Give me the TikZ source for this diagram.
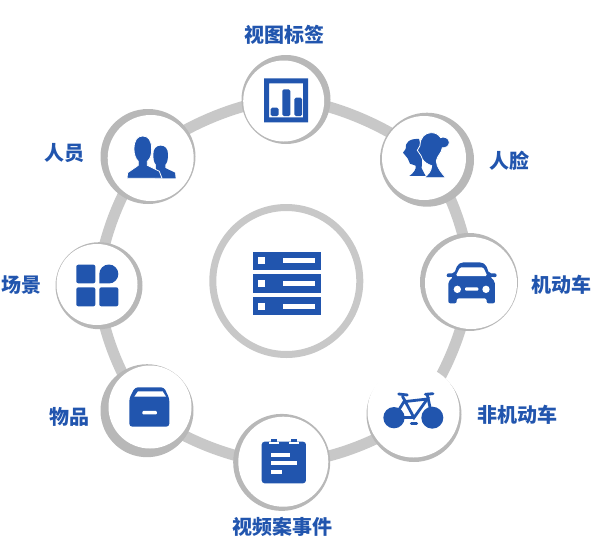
\documentclass[tikz,border=0pt]{standalone}
\usepackage{fontspec}
\newfontfamily\cjk{Noto Sans CJK SC}
\usetikzlibrary{backgrounds}
\definecolor{iconblue}{HTML}{2155AE}
\definecolor{ringgray}{HTML}{C8C8C8}
\definecolor{discgray}{HTML}{B8B8B8}
\tikzset{
  outerdisc/.style={circle, fill=discgray, inner sep=0pt, outer sep=0pt},
  innerdisc/.style={circle, fill=white, inner sep=0pt, outer sep=0pt},
  itemlabel/.style={text=iconblue, inner sep=0pt, font=\cjk\bfseries\fontsize{20}{20}\selectfont},
  ringlink/.style={ringgray, line width=11pt, looseness=.7},
  icon/.style={fill=iconblue, draw=none},
  iconhole/.style={fill=white, draw=none},
  iconcut/.style={fill=iconblue, draw=white, line width=.8pt},
  iconline/.style={iconblue, line width=2.8pt},
}
\begin{document}
\begin{tikzpicture}[x=1pt,y=-1pt]
\useasboundingbox (0,0) rectangle (603,555);
\node[outerdisc, minimum size=89pt] (nview) at (286,99.5){};
\node[outerdisc, minimum size=94pt] (nface) at (427,159.7){};
\node[outerdisc, minimum size=98pt] (ncar) at (469,282){};
\node[outerdisc, minimum size=95pt] (nbike) at (414,414.5){};
\node[outerdisc, minimum size=97pt] (nevent) at (281.7,462.4){};
\node[outerdisc, minimum size=93pt] (ngoods) at (147,410.7){};
\node[outerdisc, minimum size=87pt] (nscene) at (99,285.7){};
\node[outerdisc, minimum size=95pt] (nperson) at (148,156.5){};
\node[innerdisc, minimum size=81pt] (iview) at (283.7,101){};
\node[innerdisc, minimum size=84pt] (iface) at (424,158){};
\node[innerdisc, minimum size=92pt] (icar) at (471,283){};
\node[innerdisc, minimum size=92pt] (ibike) at (413.5,411.5){};
\node[innerdisc, minimum size=90pt] (ievent) at (283.3,461.7){};
\node[innerdisc, minimum size=83pt] (igoods) at (150,407){};
\node[innerdisc, minimum size=81pt] (iscene) at (97,284.5){};
\node[innerdisc, minimum size=86pt] (iperson) at (150.7,158){};
\node[circle, draw=ringgray, fill=white, line width=7pt, inner sep=0pt, minimum size=147pt] (ncentre) at (286.3,281){};
\begin{scope}[on background layer]
\draw[ringlink](nview.center) to[bend left=22.5] (nface.center);
\draw[ringlink](nface.center) to[bend left=22.5] (ncar.center);
\draw[ringlink](ncar.center) to[bend left=22.5] (nbike.center);
\draw[ringlink](nbike.center) to[bend left=22.5] (nevent.center);
\draw[ringlink](nevent.center) to[bend left=22.5] (ngoods.center);
\draw[ringlink](ngoods.center) to[bend left=22.5] (nscene.center);
\draw[ringlink](nscene.center) to[bend left=22.5] (nperson.center);
\draw[ringlink](nperson.center) to[bend left=22.5] (nview.center);
\end{scope}
\node[itemlabel] (lview) at (284,35){视图标签};
\node[itemlabel] (lface) at (509,161){人脸};
\node[itemlabel] (lcar) at (561.5,285){机动车};
\node[itemlabel] (lbike) at (517,415){非机动车};
\node[itemlabel] (levent) at (282.5,527){视频案事件};
\node[itemlabel] (lgoods) at (69.5,417){物品};
\node[itemlabel] (lscene) at (21.5,285){场景};
\node[itemlabel] (lperson) at (65,153){人员};
\fill[icon] (252.7,251.7) rectangle (320.7,270);
\fill[icon] (252.7,274.3) rectangle (320.7,292.6);
\fill[icon] (252.7,297) rectangle (320.7,315.3);
\fill[iconhole] (258.3,257.3) rectangle (265.3,264.3);
\fill[iconhole] (258.3,280) rectangle (265.3,287);
\fill[iconhole] (258.3,302.7) rectangle (265.3,309.7);
\fill[iconhole] (283.3,258.3) rectangle (315,263.3);
\fill[iconhole] (283.3,281) rectangle (315,286);
\fill[iconhole] (283.3,303.7) rectangle (315,308.7);
\fill[icon, even odd rule] (264,78.3) rectangle (308,122.3) (269,83.3) rectangle (303,117.3);
\fill[icon, rounded corners=1.5pt] (270.7,107.7) rectangle (278.7,116);
\fill[icon, rounded corners=1.5pt] (282.3,89.3) rectangle (290.3,116);
\fill[icon, rounded corners=1.5pt] (294.3,97.7) rectangle (302,116);
\begin{scope}[shift={(120,130)},x=.3333pt,y=-.3333pt]
\fill[icon] (105,145) -- (167,145) -- (165,128) -- (136,114) -- (136,104) .. controls (142,98) and (144,88) .. (144,73) .. controls (144,56) and (135,47) .. (122,47) .. controls (109,47) and (100,56) .. (100,73) .. controls (100,88) and (102,98) .. (108,104) -- (108,112) -- cycle;
\path[iconcut] (21,145) -- (23,128) -- (55,106) -- (55,94) .. controls (46,86) and (42,72) .. (42,58) .. controls (42,30) and (52,18) .. (68,18) .. controls (85,18) and (95,30) .. (95,58) .. controls (95,72) and (92,86) .. (82,94) -- (82,106) -- (118,124) -- (126,145) -- cycle;
\end{scope}
\begin{scope}[shift={(395,125)},x=.3333pt,y=-.3333pt]
\fill[icon] (43,153) .. controls (55,145) and (65,132) .. (62,122) -- (45,116) -- (38,100) -- (24,83) -- (32,72) .. controls (29,52) and (45,40) .. (72,42) -- (82,80) -- (80,130) -- (92,153) -- cycle;
\path[iconcut] (88,158) .. controls (100,148) and (110,138) .. (110,122) .. controls (98,118) and (88,112) .. (82,102) -- (78,92) -- (67,76) -- (75,62) .. controls (75,38) and (90,23) .. (108,23) .. controls (122,23) and (130,28) .. (137,38) .. controls (142,34) and (163,36) .. (163,52) .. controls (163,64) and (150,70) .. (142,68) .. controls (140,85) and (126,92) .. (124,108) .. controls (124,125) and (140,145) .. (152,158) -- cycle;
\end{scope}
\begin{scope}[shift={(440,255)},x=.3333pt,y=-.3333pt]
\fill[icon, rounded corners=2pt] (25,145) -- (25,80) -- (40,65) -- (20,67) -- (20,55) -- (43,55) -- (52,30) -- (65,22) -- (125,22) -- (138,30) -- (147,55) -- (170,55) -- (170,67) -- (150,65) -- (165,80) -- (165,145) -- (140,145) -- (140,130) -- (50,130) -- (50,145) -- cycle;
\fill[iconhole, rounded corners=1.5pt] (47,63) -- (60,37) -- (130,37) -- (142,63) -- cycle;
\fill[iconhole] (52,103) circle (11);
\fill[iconhole] (138,103) circle (11);
\fill[iconhole, rounded corners=1pt] (75,97) rectangle (115,107);
\end{scope}
\begin{scope}[shift={(378,385)},x=.3333pt,y=-.3333pt]
\fill[icon] (48,98) circle (32);
\fill[icon] (163,98) circle (33);
\draw[iconline] (48,98) -- (78,50) -- (148,42) -- (108,98) -- (73,33);
\draw[iconline] (48,98) -- (108,98);
\draw[iconline] (163,98) -- (148,30);
\draw[iconline, line cap=round] (62,27) -- (88,30);
\draw[iconline, line cap=round] (142,28) -- (165,26);
\draw[iconline, line cap=round] (100,115) -- (116,115);
\end{scope}
\begin{scope}[shift={(220,360)},x=.3333pt,y=-.3333pt]
\fill[icon, rounded corners=3pt] (125,245) rectangle (258,370);
\fill[iconhole] (146,245) rectangle (178,253);
\fill[iconhole] (206,245) rectangle (238,253);
\fill[icon] (152,237) rectangle (172,246);
\fill[icon] (212,237) rectangle (232,246);
\fill[iconhole] (152,278) rectangle (210,290);
\fill[iconhole] (152,303) rectangle (232,316);
\fill[iconhole] (152,330) rectangle (185,342);
\end{scope}
\begin{scope}[shift={(0,230)},x=.3333pt,y=-.3333pt]
\fill[icon, rounded corners=2pt] (229,104) rectangle (286,160);
\fill[icon, rounded corners=2pt] (229,172) rectangle (286,229);
\fill[icon, rounded corners=2pt] (298,172) rectangle (355,229);
\fill[icon] (298,132) arc[start angle=180, end angle=450, radius=28.5] -- (298,160.5) -- cycle;
\fill[icon, rounded corners=3pt] (388,590) -- (388,505) -- (405,472) -- (492,472) -- (508,505) -- (508,590) -- cycle;
\fill[iconhole] (403,500) -- (414,484) -- (488,484) -- (498,500) -- cycle;
\fill[iconhole, rounded corners=1pt] (427,543) rectangle (471,553);
\end{scope}
\end{tikzpicture}
\end{document}
